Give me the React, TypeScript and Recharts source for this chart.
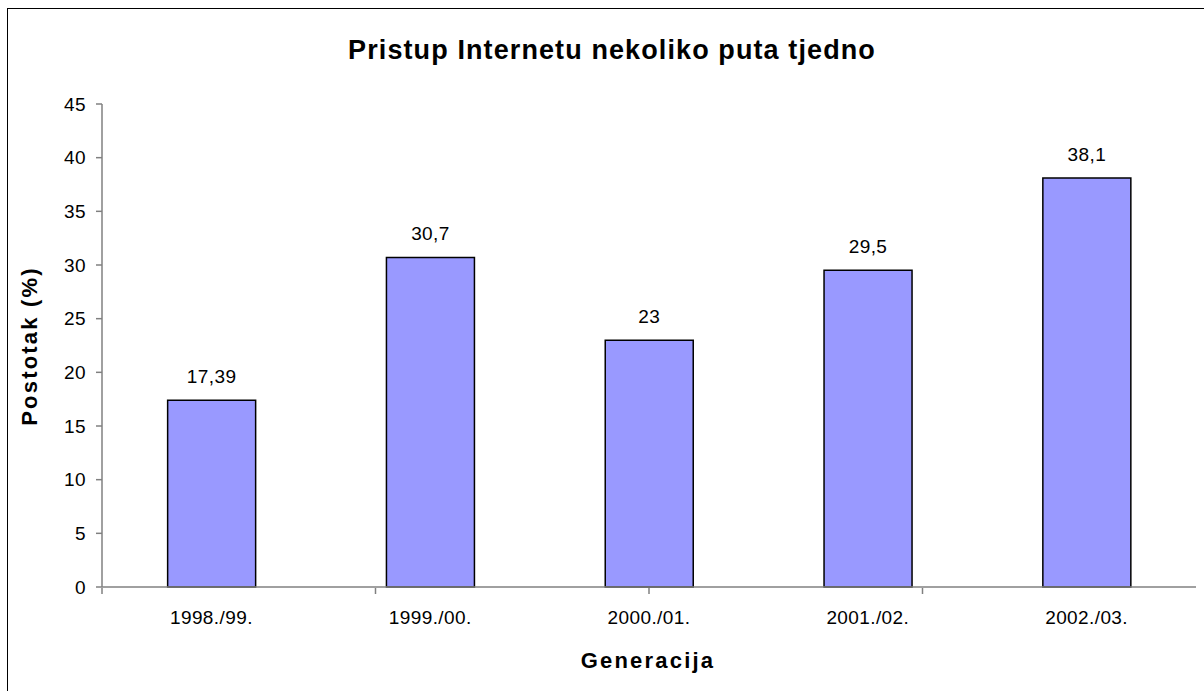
import React from "react";
import { BarChart, Bar, XAxis, YAxis, LabelList } from "recharts";

const categories = ["1998./99.", "1999./00.", "2000./01.", "2001./02.", "2002./03."];
const values = [17.39, 30.7, 23, 29.5, 38.1];
const yTicks = [0, 5, 10, 15, 20, 25, 30, 35, 40, 45];
const boundaryTicks = [0, 1, 2, 3, 4, 5];

const data = categories.map((c, i) => ({ name: c, value: values[i] }));

const FONT = "'Liberation Sans', Arial, sans-serif";
const AXIS = "#808080";
const tickStyle = { fill: "#000", fontSize: 19, fontFamily: FONT, letterSpacing: 0.4 };

const EmptyTick = () => <g />;

export default function App() {
  return (
    <div style={{ position: "absolute", left: 0, top: 0, width: 1204, height: 691, overflow: "hidden", fontFamily: FONT }}>
      <div style={{ position: "absolute", left: 7, top: 8, width: 1197, height: 683, boxSizing: "border-box", borderLeft: "1px solid #000", borderTop: "1px solid #000" }} />
      <div style={{ position: "absolute", left: 0, top: 0 }}>
        <BarChart width={1204} height={691} data={data} margin={{ top: 104, right: 8, bottom: 102, left: 42 }} barCategoryGap="30%">
          <text x={612} y={59} textAnchor="middle" fontFamily={FONT} fontWeight="bold" fontSize={27} letterSpacing={1.1} fill="#000">
            Pristup Internetu nekoliko puta tjedno
          </text>
          <text x={648} y={668} textAnchor="middle" fontFamily={FONT} fontWeight="bold" fontSize={22} letterSpacing={2.2} fill="#000">
            Generacija
          </text>
          <text x={37} y={346} transform="rotate(-90, 37, 346)" textAnchor="middle" fontFamily={FONT} fontWeight="bold" fontSize={22} letterSpacing={2.2} fill="#000">
            Postotak (%)
          </text>
          <XAxis dataKey="name" tickLine={false} axisLine={{ stroke: AXIS, strokeWidth: 1.5 }} tick={tickStyle} tickSize={6} tickMargin={18} interval={0} height={1} />
          <XAxis xAxisId="bounds" type="number" domain={[0, 5]} ticks={boundaryTicks} tick={EmptyTick} axisLine={false} tickLine={{ stroke: AXIS, strokeWidth: 1.5 }} tickSize={6} height={1} />
          <YAxis domain={[0, 45]} ticks={yTicks} interval={0} width={60} axisLine={{ stroke: AXIS, strokeWidth: 1.5 }} tickLine={{ stroke: AXIS, strokeWidth: 1.5 }} tickSize={6} tick={tickStyle} tickMargin={10} />
          <Bar dataKey="value" fill="#9999FF" stroke="#000" strokeWidth={1.5} isAnimationActive={false}>
            <LabelList dataKey="value" position="top" offset={17} formatter={(v: number) => String(v).replace(".", ",")} style={{ fill: "#000", fontSize: 19, fontFamily: FONT, letterSpacing: 0.4 }} />
          </Bar>
        </BarChart>
      </div>
    </div>
  );
}
